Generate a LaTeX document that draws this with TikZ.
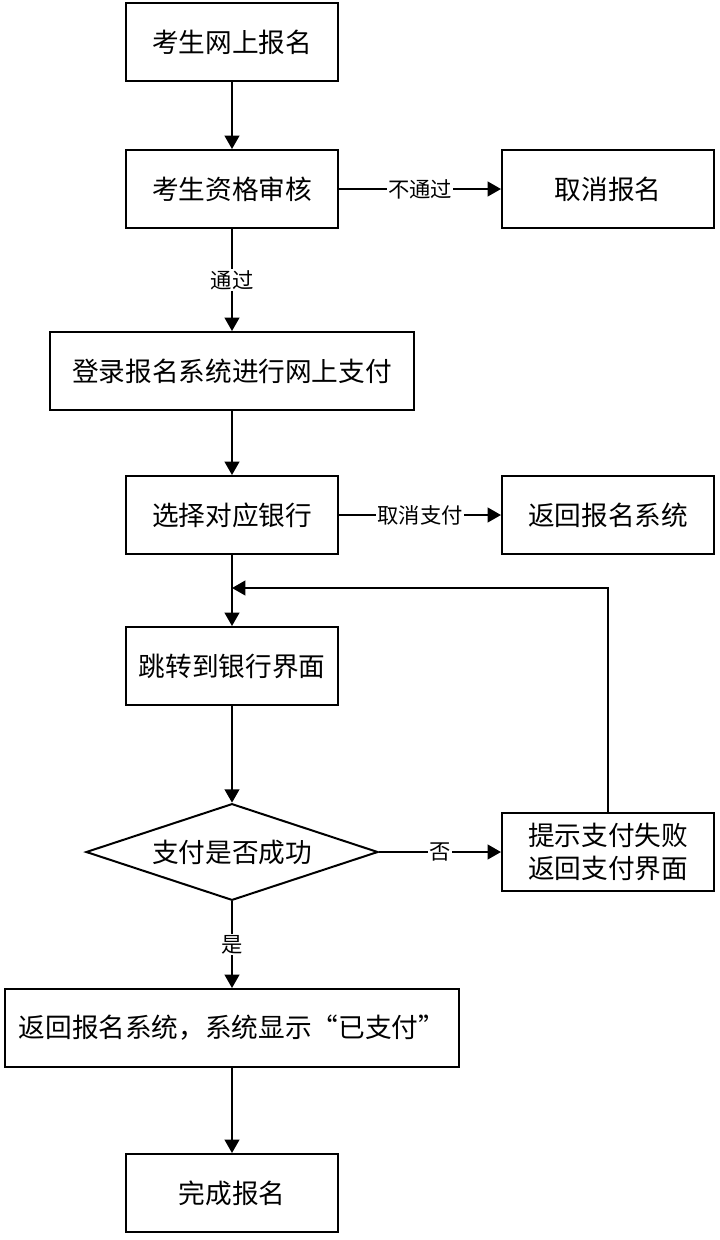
\documentclass[tikz,border=0pt]{standalone}
\usepackage{fontspec}
\setmainfont{Noto Sans CJK SC}
\usetikzlibrary{shapes.geometric,arrows.meta}
\begin{document}
\begin{tikzpicture}[x=0.75pt,y=-0.75pt,
  boxnode/.style={draw,line width=1.5pt,inner sep=0pt,align=center,
    font=\fontsize{20}{25}\selectfont},
  decision/.style={draw,shape=diamond,aspect=3,line width=1.5pt,inner sep=0pt,
    font=\fontsize{20}{25}\selectfont,minimum width=219pt,minimum height=72.5pt},
  lbl/.style={fill=white,inner sep=1pt,font=\fontsize{16}{18}\selectfont},
  arr/.style={line width=1.5pt,-{Triangle[length=10pt,width=11pt]}}]
\useasboundingbox (0,0) rectangle (720,1240);
\node[boxnode,minimum width=159pt,minimum height=58.5pt] (n1) at (232,42) {考生网上报名};
\node[boxnode,minimum width=159pt,minimum height=58.5pt] (n2) at (232,189) {考生资格审核};
\node[boxnode,minimum width=159pt,minimum height=58.5pt] (n3) at (608,189) {取消报名};
\node[boxnode,minimum width=273pt,minimum height=58.5pt] (n4) at (232,371) {登录报名系统进行网上支付};
\node[boxnode,minimum width=159pt,minimum height=58.5pt] (n5) at (232,515) {选择对应银行};
\node[boxnode,minimum width=159pt,minimum height=58.5pt] (n6) at (608,515) {返回报名系统};
\node[boxnode,minimum width=159pt,minimum height=58.5pt] (n7) at (232,666) {跳转到银行界面};
\node[decision] (n8) at (232,852) {支付是否成功};
\node[boxnode,minimum width=159pt,minimum height=58.5pt] (n9) at (608,852) {提示支付失败\\返回支付界面};
\node[boxnode,minimum width=340pt,minimum height=58.5pt] (n10) at (232,1028) {返回报名系统，系统显示“已支付”};
\node[boxnode,minimum width=159pt,minimum height=58.5pt] (n11) at (232,1193) {完成报名};
\coordinate (m) at (232,588);
\draw[arr] (n1) -- (n2);
\draw[arr] (n2) -- node[lbl] {不通过} (n3);
\draw[arr] (n2) -- node[lbl] {通过} (n4);
\draw[arr] (n4) -- (n5);
\draw[arr] (n5) -- node[lbl] {取消支付} (n6);
\draw[arr] (n5) -- (n7);
\draw[arr] (n9.north) |- (m);
\draw[arr] (n7) -- (n8);
\draw[arr] (n8) -- node[lbl] {否} (n9);
\draw[arr] (n8) -- node[lbl] {是} (n10);
\draw[arr] (n10) -- (n11);
\end{tikzpicture}
\end{document}
